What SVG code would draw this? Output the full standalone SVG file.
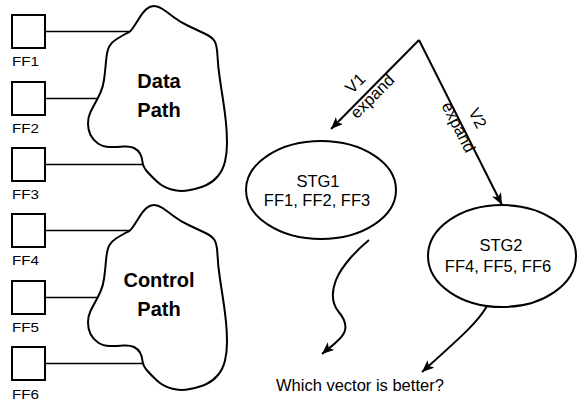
<svg xmlns="http://www.w3.org/2000/svg" width="577" height="405" viewBox="0 0 577 405">
  <style>
    .ff { fill: #fff; stroke: #000; stroke-width: 2; }
    .wire { stroke: #000; stroke-width: 1.6; fill: none; }
    .blob { fill: #fff; stroke: #000; stroke-width: 2; stroke-linejoin: round; }
    .stg { fill: #fff; stroke: #000; stroke-width: 2; }
    .edge { fill: none; stroke: #000; stroke-width: 2; }
    text { font-family: "Liberation Sans", Arial, Helvetica, sans-serif; fill: #000; }
    .lbl { font-size: 13px; }
    .big { font-size: 20px; font-weight: bold; text-anchor: middle; }
    .t { font-size: 16.5px; }
    .mid { text-anchor: middle; }
  </style>
  <defs>
    <marker id="arrow" markerUnits="userSpaceOnUse" markerWidth="14" markerHeight="12" refX="12" refY="5" orient="auto">
      <path d="M0,0 L12,5 L0,10 L3,5 Z" fill="#000"/>
    </marker>
    <!-- freehand cloud outline, shared by both path blocks -->
    <path id="cloud" d="M128.5,32.5 Q130,32 132.5,28.5 Q135,25 139,18.5 Q143,12 146.5,9 Q150,6 154,6 Q158,6 162.5,9 Q167,12 173.5,17 Q180,22 188.5,26 Q197,30 204.5,33.5 Q212,37 214.5,41 Q217,45 217.5,56 Q218,67 220,80 Q222,93 223.5,103 Q225,113 226,123 Q227,133 227,143 Q227,153 225,161.5 Q223,170 218,176 Q213,182 206.5,185 Q200,188 190,190 Q180,192 171.5,189.5 Q163,187 157.5,182 Q152,177 147.5,172 Q143,167 142.5,162 Q142,157 140,153.5 Q138,150 134,148 Q130,146 123.5,146.5 Q117,147 110,147 Q103,147 98,143.5 Q93,140 90.5,135 Q88,130 88,123.5 Q88,117 90.5,112 Q93,107 95.5,102.5 Q98,98 100.5,92.5 Q103,87 104,80 Q105,73 106,61.5 Q107,50 109.5,46 Q112,42 116,39.5 Q120,37 123.5,35 Q127,33 128.5,32.5 Z"/>
  </defs>

  <!-- connectors -->
  <g id="connectors">
    <line class="wire" x1="45" y1="31.5" x2="130" y2="31.5"/>
    <line class="wire" x1="45" y1="98.5" x2="98" y2="98.5"/>
    <line class="wire" x1="45" y1="164.5" x2="142" y2="164.5"/>
    <line class="wire" x1="45" y1="230.5" x2="130" y2="230.5"/>
    <line class="wire" x1="45" y1="297.5" x2="98" y2="297.5"/>
    <line class="wire" x1="45" y1="363.5" x2="142" y2="363.5"/>
    <line class="edge" x1="419" y1="40" x2="331" y2="129" marker-end="url(#arrow)"/>
    <line class="edge" x1="419" y1="40" x2="502" y2="205" marker-end="url(#arrow)"/>
    <path class="edge" d="M369,240 C358,249 342,265 336,280 C331,293 332,303 338,311 C344,318 348,325 344,333 C340,341 330,347 322,354" marker-end="url(#arrow)"/>
    <path class="edge" d="M487,306 C478,322 462,336 422,372" marker-end="url(#arrow)"/>
    <text class="t mid" transform="translate(355,83) rotate(-45)" y="6">V1</text>
    <text class="t mid" transform="translate(372,96) rotate(-45)" y="6">expand</text>
    <text class="t mid" transform="translate(478,118) rotate(63)" y="6">V2</text>
    <text class="t mid" transform="translate(459,127) rotate(63)" y="6">expand</text>
  </g>

  <!-- flip-flops -->
  <g id="ff1"><rect class="ff" x="12" y="15" width="33" height="33"/><text class="lbl" x="12" y="66" textLength="27" lengthAdjust="spacingAndGlyphs">FF1</text></g>
  <g id="ff2"><rect class="ff" x="12" y="82" width="33" height="33"/><text class="lbl" x="12" y="133" textLength="27" lengthAdjust="spacingAndGlyphs">FF2</text></g>
  <g id="ff3"><rect class="ff" x="12" y="148" width="33" height="33"/><text class="lbl" x="12" y="199" textLength="27" lengthAdjust="spacingAndGlyphs">FF3</text></g>
  <g id="ff4"><rect class="ff" x="12" y="214" width="33" height="33"/><text class="lbl" x="12" y="265" textLength="27" lengthAdjust="spacingAndGlyphs">FF4</text></g>
  <g id="ff5"><rect class="ff" x="12" y="281" width="33" height="33"/><text class="lbl" x="12" y="332" textLength="27" lengthAdjust="spacingAndGlyphs">FF5</text></g>
  <g id="ff6"><rect class="ff" x="12" y="347" width="33" height="33"/><text class="lbl" x="12" y="399" textLength="27" lengthAdjust="spacingAndGlyphs">FF6</text></g>

  <!-- logic clouds -->
  <g id="data-path">
    <use href="#cloud" class="blob"/>
    <text class="big" x="159" y="88">Data</text>
    <text class="big" x="159" y="117">Path</text>
  </g>
  <g id="control-path">
    <use href="#cloud" class="blob" transform="translate(0,199)"/>
    <text class="big" x="159" y="287">Control</text>
    <text class="big" x="159" y="316">Path</text>
  </g>

  <!-- state groups -->
  <g id="stg1">
    <ellipse class="stg" cx="321" cy="190" rx="75" ry="49"/>
    <text class="t mid" x="318" y="187">STG1</text>
    <text class="t mid" x="317" y="206">FF1, FF2, FF3</text>
  </g>
  <g id="stg2">
    <ellipse class="stg" cx="502" cy="256" rx="74" ry="51"/>
    <text class="t mid" x="501" y="251">STG2</text>
    <text class="t mid" x="498" y="272">FF4, FF5, FF6</text>
  </g>

  <g id="question">
    <text class="t" x="276" y="391">Which vector is better?</text>
  </g>
</svg>
